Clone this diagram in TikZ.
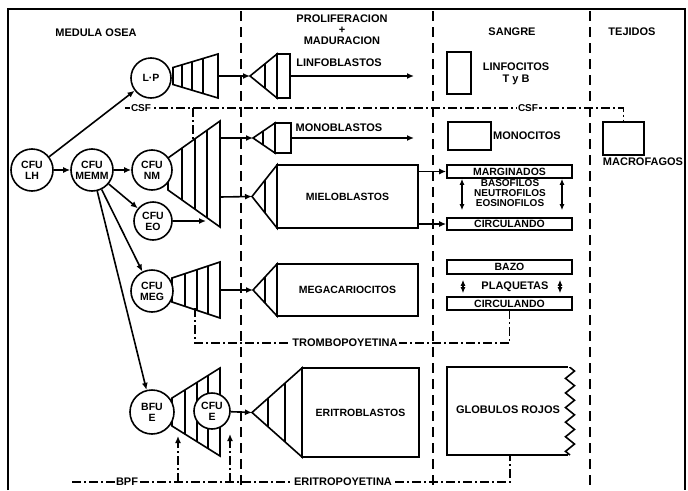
\documentclass[tikz,border=0pt]{standalone}
\usepackage{fontspec}
\setmainfont{Liberation Sans}
\usetikzlibrary{arrows.meta,decorations.pathmorphing}

\tikzset{
  cell/.style={circle, draw, fill=white, minimum size=42pt, inner sep=0pt, align=center,
    font=\bfseries\fontsize{10.5}{11}\selectfont},
  box/.style={draw, inner sep=0pt, font=\bfseries\fontsize{10.5}{10.5}\selectfont},
  lbl/.style={inner sep=1pt, font=\bfseries\fontsize{11}{11}\selectfont},
  sep/.style={dash pattern=on 10pt off 6pt},
  hormone/.style={dash pattern=on 9pt off 3pt on 2pt off 3pt},
}

% stem fan: x1, x2, y centre, half height left, half height right, stripes
\newcommand{\fan}[6]{%
  \draw (#1,#3-#4) -- (#2,#3-#5) -- (#2,#3+#5) -- (#1,#3+#4) -- cycle;
  \begin{scope}
    \clip (#1,#3-#4) -- (#2,#3-#5) -- (#2,#3+#5) -- (#1,#3+#4) -- cycle;
    \foreach \s in {#6} \draw (\s,#3-#5) -- (\s,#3+#5);
  \end{scope}}

% blast head: tip name, tip x, base x, y centre, half height, inner lines
\newcommand{\blast}[6]{%
  \coordinate (#1) at (#2,#4);
  \draw (#2,#4) -- (#3,#4-#5) -- (#3,#4+#5) -- cycle;
  \begin{scope}
    \clip (#2,#4) -- (#3,#4-#5) -- (#3,#4+#5) -- cycle;
    \foreach \s in {#6} \draw (\s,#4-#5) -- (\s,#4+#5);
  \end{scope}}

\begin{document}
\begin{tikzpicture}[x=1pt, y=-1pt, line width=1.6pt, >={Latex[length=7pt,width=6pt]}]
  \useasboundingbox (0,0) rectangle (688,490);

  % frame and columns
  \draw[line width=2pt] (8,490) -- (8,9) -- (685,9) -- (685,490);
  \foreach \x in {241,433,590} \draw[sep] (\x,11) -- (\x,490);

  \node[lbl] (medula) at (96,33) {MEDULA OSEA};
  \node[lbl, align=center] (prolif) at (342,29.5) {PROLIFERACION\\+\\MADURACION};
  \node[lbl] (sangre) at (512,32) {SANGRE};
  \node[lbl] (tejidos) at (632,32) {TEJIDOS};

  % fans
  \fan{173}{218}{76}{8.5}{22}{182,192,203}
  \fan{168}{220}{174}{16}{53}{182,195,207}
  \fan{172}{220}{290}{12}{28}{185,197,208}
  \fan{172}{220}{412}{14}{44}{185,197,208}

  % stem cells
  \node[cell] (lh) at (32,170) {CFU\\LH};
  \node[cell] (memm) at (92,170) {CFU\\MEMM};
  \node[cell, minimum size=40pt] (lp) at (151,78) {L·P};
  \node[cell, minimum size=40pt] (nm) at (152,170) {CFU\\NM};
  \node[cell, minimum size=38pt] (eo) at (153,221) {CFU\\EO};
  \node[cell] (meg) at (152,291) {CFU\\MEG};
  \node[cell, minimum size=44pt] (bfu) at (152,412) {BFU\\E};
  \node[cell, minimum size=36pt] (cfue) at (212,411) {CFU\\E};

  \draw[->] (lh) -- (lp);
  \draw[->] (lh) -- (memm);
  \draw[->] (memm) -- (nm);
  \foreach \t in {eo,meg,bfu} \draw[->] (memm) -- (\t);
  \coordinate (eoin) at (206,221);
  \draw[->] (eo) -- (eoin);

  % blasts
  \blast{linfotip}{250}{277}{76}{22}{265}
  \node[box, minimum width=13pt, minimum height=44pt] (linfo) at (283.5,76) {};
  \node[lbl] (linfotxt) at (339,63) {LINFOBLASTOS};
  \blast{monotip}{253}{275}{138}{15}{263}
  \node[box, minimum width=16pt, minimum height=30pt] (mono) at (283,138) {};
  \node[lbl] (monotxt) at (339,128) {MONOBLASTOS};
  \blast{mielotip}{252}{277}{196.5}{31.5}{265}
  \node[box, minimum width=141pt, minimum height=63pt] (mielo) at (347.5,196.5) {MIELOBLASTOS};
  \blast{megatip}{253}{277}{290}{26}{265}
  \node[box, minimum width=141pt, minimum height=52pt] (mega) at (347.5,290) {MEGACARIOCITOS};
  \blast{eritrotip}{252}{302}{412.5}{44.5}{268,285}
  \node[box, minimum width=117pt, minimum height=89pt] (eritro) at (360.5,412.5) {ERITROBLASTOS};

  \coordinate (lpout) at (218,76);
  \coordinate (nmout1) at (220,138);
  \coordinate (nmout2) at (220,197);
  \coordinate (megout) at (220,290);
  \draw[->] (lpout) -- (linfotip);
  \draw[->] (nmout1) -- (monotip);
  \draw[->] (nmout2) -- (mielotip);
  \draw[->] (megout) -- (megatip);
  \draw[->] (cfue) -- (eritrotip);
  \coordinate (linfoend) at (414,76);
  \coordinate (monoend) at (414,138);
  \draw[->] (linfo) -- (linfoend);
  \draw[->] (mono) -- (monoend);

  % blood
  \node[box, minimum width=24pt, minimum height=42pt] (linfocitos) at (459,73) {};
  \node[lbl, align=center, font=\bfseries\fontsize{11}{12.5}\selectfont] (linfocitostxt) at (516,74) {LINFOCITOS\\T y B};
  \node[box, minimum width=43pt, minimum height=28pt] (monocitos) at (469.5,136) {};
  \node[lbl] (monocitostxt) at (527,136) {MONOCITOS};
  \node[box, minimum width=125pt, minimum height=13pt] (marg) at (509.5,171.5) {MARGINADOS};
  \node[box, minimum width=125pt, minimum height=12pt] (circ1) at (509.5,224) {CIRCULANDO};
  \node[lbl, align=center, font=\bfseries\fontsize{10}{10}\selectfont] (granulo) at (510,193.5) {BASOFILOS\\NEUTROFILOS\\EOSINOFILOS};
  \node[box, minimum width=125pt, minimum height=14pt] (bazo) at (509.5,267) {BAZO};
  \node[lbl] (plaq) at (515,287) {PLAQUETAS};
  \node[box, minimum width=125pt, minimum height=13pt] (circ2) at (509.5,303.5) {CIRCULANDO};

  \draw[->] (mielo.east |- marg.west) -- (marg.west);
  \draw[->] (mielo.east |- circ1.west) -- (circ1.west);
  \begin{scope}[line width=1.4pt, >={Latex[length=6pt,width=5pt]}]
    \draw[<->, shorten >=7pt] ([xshift=-47.5pt]marg.south) -- ([xshift=-47.5pt]circ1.north);
    \draw[<->, shorten >=7pt] ([xshift=52.5pt]marg.south) -- ([xshift=52.5pt]circ1.north);
    \draw[<->, shorten <=5pt, shorten >=3pt] ([xshift=-46.5pt]bazo.south) -- ([xshift=-46.5pt]circ2.north);
    \draw[<->, shorten <=5pt, shorten >=3pt] ([xshift=50.5pt]bazo.south) -- ([xshift=50.5pt]circ2.north);
  \end{scope}

  \draw (568,367) -- (447,367) -- (447,455) -- (568,455);
  \draw[decorate, decoration={zigzag, segment length=14.6pt, amplitude=4.5pt}] (570,455) -- (570,367);
  \node[lbl] (globulos) at (508,410) {GLOBULOS ROJOS};
  \coordinate (globbot) at (510,455);

  % tissue
  \node[box, minimum width=41pt, minimum height=33pt] (macro) at (623.5,138.5) {};
  \node[lbl] (macrotxt) at (643,162) {MACROFAGOS};

  % growth factors
  \coordinate (csf) at (125,108);
  \coordinate (csfnm) at (193,140);
  \draw[hormone] (csf) -- (macro.north |- csf) -- (macro.north);
  \draw[hormone] (csfnm |- csf) -- (csfnm);
  \node[lbl, fill=white, font=\bfseries\fontsize{10}{10}\selectfont] (csf1) at (141,108) {CSF};
  \node[lbl, fill=white, font=\bfseries\fontsize{10}{10}\selectfont] (csf2) at (528,108) {CSF};

  \coordinate (trombo) at (195,308);
  \draw[hormone] (trombo) -- (195,343) -- (circ2.south |- 0,343) -- (circ2.south);
  \node[lbl, fill=white] (trombotxt) at (345,343) {TROMBOPOYETINA};

  \coordinate (bpf) at (72,482);
  \draw[hormone] (bpf) -- (globbot |- bpf) -- (globbot);
  \node[lbl, fill=white] (bpftxt) at (127,482) {BPF};
  \node[lbl, fill=white] (eritrotxt) at (343,482) {ERITROPOYETINA};
  \coordinate (bfuup) at (178,436);
  \coordinate (cfueup) at (230,434);
  \draw[hormone, ->] (bfuup |- bpf) -- (bfuup);
  \draw[hormone, ->] (cfueup |- bpf) -- (cfueup);
\end{tikzpicture}
\end{document}
